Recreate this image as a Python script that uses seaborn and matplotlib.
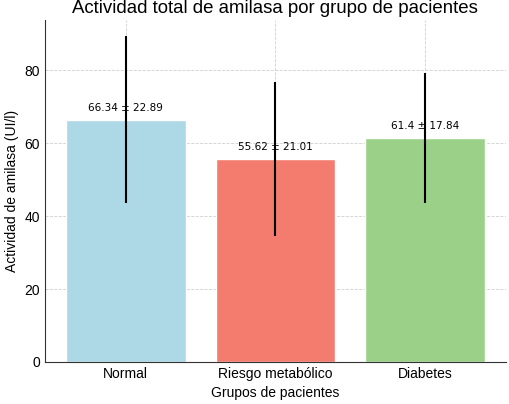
import matplotlib
matplotlib.use("Agg")
import matplotlib.pyplot as plt
import seaborn as sns
import pandas as pd

grupos = ["Normal", "Riesgo metabólico", "Diabetes"]
medias = [66.34, 55.62, 61.4]
desv = [22.89, 21.01, 17.84]
colores = ["#add8e6", "#f47c6f", "#9bd088"]

df = pd.DataFrame({"grupo": grupos, "media": medias})

sns.set_style("white", rc={"text.color": "black", "axes.labelcolor": "black",
                           "xtick.color": "black", "ytick.color": "black"})
plt.rcParams["font.family"] = ["Liberation Sans", "DejaVu Sans"]

fig = plt.figure(figsize=(5.1, 4.04), dpi=100)
ax = fig.add_axes([0.088, 0.104, 0.904, 0.846])

sns.barplot(data=df, x="grupo", y="media", hue="grupo", palette=colores,
            errorbar=None, width=0.8, legend=False, ax=ax, saturation=1)
ax.errorbar(range(len(grupos)), medias, yerr=desv, fmt="none",
            ecolor="black", elinewidth=1.5, capsize=0)

for i, (m, s) in enumerate(zip(medias, desv)):
    ax.text(i, m + 2, f"{m} ± {s}", ha="center", va="bottom",
            fontsize=7.5, family="DejaVu Sans")

ax.set_title("Actividad total de amilasa por grupo de pacientes", fontsize=13.4, pad=5)
ax.set_xlabel("Grupos de pacientes", fontsize=10)
ax.set_ylabel("Actividad de amilasa (UI/l)", fontsize=10)
ax.tick_params(labelsize=10, length=0)
ax.set_yticks([0, 20, 40, 60, 80])
ax.grid(True, linestyle="--", linewidth=0.6, color="#d0d0d0")
ax.set_axisbelow(True)
sns.despine(ax=ax)
for sp in ["left", "bottom"]:
    ax.spines[sp].set_color("#333333")

fig.savefig("out.png", dpi=100)
